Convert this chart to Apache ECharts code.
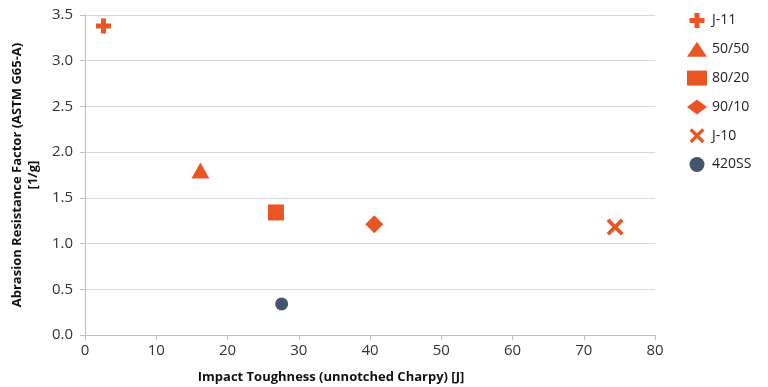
<!DOCTYPE html>
<html>
<head>
<meta charset="utf-8">
<script src="https://cdn.jsdelivr.net/npm/echarts@6/dist/echarts.min.js"></script>
<style>html,body{margin:0;padding:0;background:#fff}#c{width:768px;height:387px}</style>
</head>
<body>
<div id="c"></div>
<script>
const seriesNames = ['J-11', '50/50', '80/20', '90/10', 'J-10', '420SS'];
const impactToughness = [2.6, 16.2, 26.8, 40.6, 74.4, 27.6];
const abrasionFactor = [3.38, 1.80, 1.34, 1.21, 1.18, 0.34];
const xTicks = [0, 10, 20, 30, 40, 50, 60, 70, 80];
const yTicks = [0, 0.5, 1.0, 1.5, 2.0, 2.5, 3.0, 3.5];

const ORANGE = '#E95624';
const DARK = '#44546A';
const symbols = [
  'path://M4,0H8V4H12V8H8V12H4V8H0V4H4Z',
  'triangle',
  'rect',
  'diamond',
  'path://M0,1.6L1.6,0L5,3.4L8.4,0L10,1.6L6.6,5L10,8.4L8.4,10L5,6.6L1.6,10L0,8.4L3.4,5Z',
  'circle'
];
const sizes = [15, [18, 16], 16, 18, 17, 13];
const colors = [ORANGE, ORANGE, ORANGE, ORANGE, ORANGE, DARK];
const FONT = '"Open Sans", Lato, sans-serif';

const chart = echarts.init(document.getElementById('c'), null, {renderer: 'canvas'});
chart.setOption({
  animation: false,
  textStyle: {fontFamily: FONT},
  grid: {left: 85, right: 113, top: 15, bottom: 52, containLabel: false, outerBoundsMode: 'none'},
  legend: {
    orient: 'vertical',
    left: 682,
    top: 8,
    itemWidth: 20,
    itemHeight: 15,
    itemGap: 13.8,
    textStyle: {fontSize: 14, color: '#222', fontFamily: FONT},
    data: seriesNames
  },
  xAxis: {
    type: 'value',
    min: xTicks[0], max: xTicks[xTicks.length - 1], interval: 10,
    name: 'Impact Toughness (unnotched Charpy) [J]',
    nameLocation: 'middle',
    nameGap: 36,
    nameTextStyle: {fontSize: 13, fontWeight: 'bold', color: '#111', padding: [0, 78, 0, 0]},
    axisLine: {show: true, lineStyle: {color: '#BFBFBF'}},
    axisTick: {show: true, length: 5, lineStyle: {color: '#BFBFBF'}},
    axisLabel: {fontSize: 15, color: '#333', margin: 8},
    splitLine: {show: false}
  },
  yAxis: {
    type: 'value',
    min: yTicks[0], max: yTicks[yTicks.length - 1], interval: 0.5,
    name: 'Abrasion Resistance Factor (ASTM G65-A)\n[1/g]',
    nameLocation: 'middle',
    nameGap: 44,
    nameTextStyle: {fontSize: 13, fontWeight: 'bold', color: '#111', lineHeight: 16},
    axisLine: {show: true, lineStyle: {color: '#BFBFBF'}},
    axisTick: {show: true, length: 5, lineStyle: {color: '#BFBFBF'}},
    axisLabel: {fontSize: 15, color: '#333', margin: 12, formatter: v => v.toFixed(1)},
    splitLine: {show: true, lineStyle: {color: '#D9D9D9', width: 1}}
  },
  series: seriesNames.map((n, i) => ({
    name: n,
    type: 'scatter',
    symbol: symbols[i],
    symbolSize: sizes[i],
    itemStyle: {color: colors[i], opacity: 1},
    data: [[impactToughness[i], abrasionFactor[i]]]
  }))
});
</script>
</body>
</html>
